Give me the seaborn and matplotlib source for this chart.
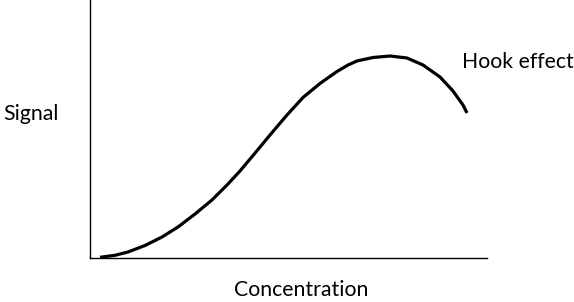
import matplotlib
matplotlib.use("Agg")
import matplotlib.pyplot as plt
import seaborn as sns
import pandas as pd

concentration = [2.52, 6.30, 9.57, 13.85, 18.14, 22.17, 26.45, 30.73, 34.51, 37.78,
                 41.06, 45.34, 49.62, 53.65, 57.93, 62.22, 65.00, 67.25, 71.28, 75.57,
                 79.85, 83.88, 88.16, 91.44, 93.95, 94.96]
signal = [0.27, 1.05, 2.33, 4.84, 8.14, 12.02, 17.05, 22.50, 28.29, 33.72,
          39.73, 47.67, 55.43, 62.21, 67.64, 72.29, 74.81, 76.36, 77.71, 78.29,
          77.52, 74.81, 70.16, 64.73, 59.30, 56.20]
x_label = "Concentration"
y_label = "Signal"
annotation = "Hook effect"

sns.set_theme(style="white")
plt.rcParams['font.family'] = ['Lato', 'DejaVu Sans']

df = pd.DataFrame({"c": concentration, "s": signal})

fig = plt.figure(figsize=(5.74, 3.02), dpi=100)
ax = fig.add_axes([90/574, 44/302, 397/574, 258/302])
sns.lineplot(data=df, x="c", y="s", ax=ax, color="black", linewidth=2.3)
for ln in ax.lines:
    ln.set_solid_joinstyle("round")
    ln.set_solid_capstyle("butt")
ax.set_xlim(0, 100)
ax.set_ylim(0, 100)
ax.set_xticks([])
ax.set_yticks([])
ax.set_xlabel("")
ax.set_ylabel("")
for side in ["top", "right"]:
    ax.spines[side].set_visible(False)
for side in ["left", "bottom"]:
    ax.spines[side].set_color("black")
    ax.spines[side].set_linewidth(1.0)

fs = 15.3
fig.text(3/574, 1 - 120/302, y_label, ha="left", va="baseline", fontsize=fs, color="black")
fig.text(301.5/574, 1 - 296/302, x_label, ha="center", va="baseline", fontsize=fs, color="black")
fig.text(462/574, 1 - 68.5/302, annotation, ha="left", va="baseline", fontsize=fs, color="black")

fig.savefig("out.png", dpi=100)
